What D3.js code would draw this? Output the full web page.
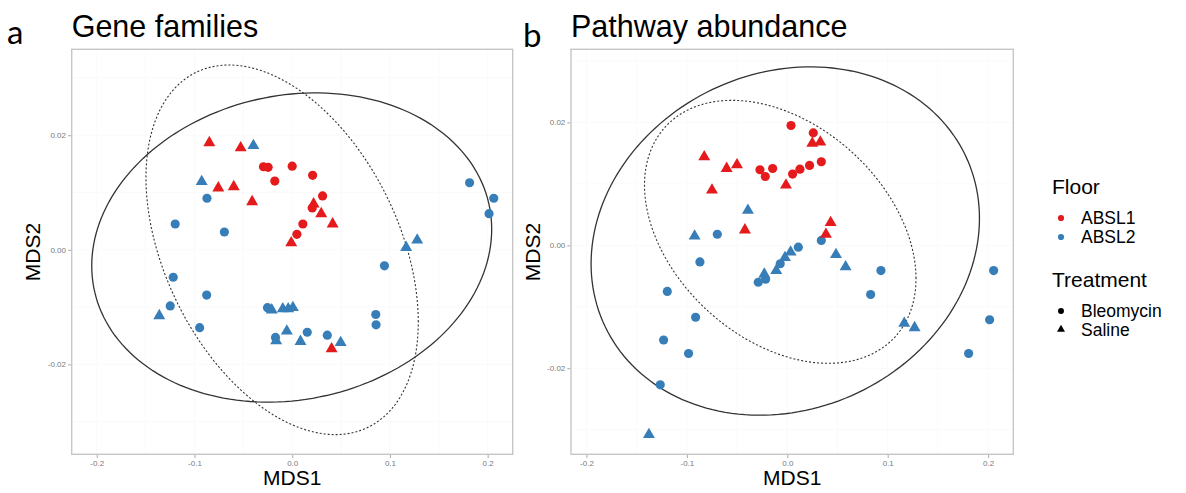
<!DOCTYPE html>
<html>
<head>
<meta charset="utf-8">
<script src="https://cdn.jsdelivr.net/npm/d3@7"></script>
<style>
    body { margin: 0; background: #ffffff; }
    text { font-family: "Liberation Sans", Arial, sans-serif; }
</style>
</head>
<body>
<script>
// NMDS ordination, two panels side by side, ggplot style.
// Values are [MDS1, MDS2].

// colours for the Floor legend
var floorNames = ["ABSL1", "ABSL2"];
var floorColors = ["#e41a1c", "#377eb8"];
var treatNames = ["Bleomycin", "Saline"];

var xTicks = [-0.2, -0.1, 0.0, 0.1, 0.2];
var xTickLabels = ["-0.2", "-0.1", "0.0", "0.1", "0.2"];
var yTicks = [-0.02, 0.00, 0.02];
var yTickLabels = ["-0.02", "0.00", "0.02"];

// ---- panel a : Gene families ----
var geneAbsl1Bleo = [[-0.0294, 0.0145], [-0.0246, 0.0144], [0.0000, 0.0146],
    [0.0209, 0.0130], [-0.0178, 0.0120], [0.0311, 0.0094], [0.0205, 0.0073],
    [0.0109, 0.0045], [0.0048, 0.0027]];
var geneAbsl1Saline = [[-0.0848, 0.0187], [-0.0527, 0.0178],
    [-0.0756, 0.0108], [-0.0598, 0.0110], [-0.0410, 0.0084], [0.0219, 0.0080],
    [0.0297, 0.0063], [0.0414, 0.0045], [-0.0010, 0.0012], [0.0403, -0.0173]];
var geneAbsl2Bleo = [[-0.0872, 0.0090], [-0.1197, 0.0045], [-0.0694, 0.0031],
    [-0.1217, -0.0048], [-0.0875, -0.0079], [-0.1248, -0.0098],
    [-0.0947, -0.0136], [-0.0253, -0.0101], [-0.0171, -0.0153],
    [0.0154, -0.0144], [0.0359, -0.0149], [0.0855, -0.0113],
    [0.0858, -0.0131], [0.0944, -0.0028], [0.1815, 0.0117], [0.2062, 0.0090],
    [0.2014, 0.0063]];
var geneAbsl2Saline = [[-0.0397, 0.0182], [-0.0926, 0.0119], [0.1166, 0.0004],
    [0.1279, 0.0017], [-0.1360, -0.0115], [-0.0209, -0.0105],
    [-0.0096, -0.0103], [-0.0041, -0.0103], [0.0007, -0.0101],
    [-0.0055, -0.0142], [-0.0164, -0.0159], [0.0085, -0.0160],
    [0.0496, -0.0162]];
// ellipse: centre x, centre y, semi-diameter (ax, ay), vertical conjugate bh
var geneEllipseSolid = [-0.0005, 0.0004, 0.2046, 0.0032, 0.0268];
var geneEllipseDashed = [-0.0103, 0.0000, 0.1393, -0.0126, 0.0297];

// ---- panel b : Pathway abundance ----
var pathAbsl1Bleo = [[0.0037, 0.0195], [0.0259, 0.0183], [-0.0272, 0.0123],
    [-0.0219, 0.0112], [-0.0146, 0.0125], [0.0053, 0.0116], [0.0126, 0.0124],
    [0.0222, 0.0130], [0.0339, 0.0136]];
var pathAbsl1Saline = [[0.0249, 0.0166], [0.0329, 0.0168], [-0.0827, 0.0144],
    [-0.0604, 0.0125], [-0.0501, 0.0131], [-0.0750, 0.0090],
    [-0.0013, 0.0098], [-0.0422, 0.0025], [0.0432, 0.0037], [0.0385, 0.0018]];
var pathAbsl2Bleo = [[-0.0697, 0.0018], [-0.0870, -0.0027], [0.0110, -0.0003],
    [-0.0070, -0.0030], [-0.0216, -0.0055], [-0.0289, -0.0060],
    [0.0339, 0.0008], [0.0933, -0.0041], [0.0830, -0.0080],
    [-0.1195, -0.0075], [-0.0913, -0.0117], [-0.1232, -0.0154],
    [-0.0983, -0.0176], [-0.1265, -0.0227], [0.1806, -0.0176],
    [0.2015, -0.0121], [0.2055, -0.0041]];
var pathAbsl2Saline = [[-0.0392, 0.0057], [-0.0923, 0.0015], [0.0485, -0.0015],
    [0.0581, -0.0035], [0.0033, -0.0011], [-0.0023, -0.0020],
    [-0.0110, -0.0041], [-0.0229, -0.0047], [0.1165, -0.0127],
    [0.1268, -0.0134], [-0.1378, -0.0308]];
var pathEllipseSolid = [-0.0020, 0.0007, 0.1934, 0.0037, 0.0281];
var pathEllipseDashed = [-0.0070, 0.0022, 0.1352, -0.0076, 0.0200];

var svg = d3.select("body").append("svg")
    .attr("width", 1186)
    .attr("height", 493);

var symCircle = d3.symbol().type(d3.symbolCircle).size(66);
var symTriangle = d3.symbol().type(d3.symbolTriangle).size(62);

function drawPanel(p) {
    var x = d3.scaleLinear().domain(p.xDomain).range([p.left, p.right]);
    var y = d3.scaleLinear().domain(p.yDomain).range([p.bottom, p.top]);
    var g = svg.append("g");

    // faint major + minor grid
    var gx = d3.range(-0.2, 0.2001, 0.05);
    var gy = d3.range(-0.03, 0.0301, 0.01);
    g.selectAll(".gx").data(gx).enter().append("line")
        .attr("x1", function(d) { return x(d); })
        .attr("x2", function(d) { return x(d); })
        .attr("y1", p.top).attr("y2", p.bottom)
        .attr("stroke", "#fafafa").attr("stroke-width", 1);
    g.selectAll(".gy").data(gy).enter().append("line")
        .attr("y1", function(d) { return y(d); })
        .attr("y2", function(d) { return y(d); })
        .attr("x1", p.left).attr("x2", p.right)
        .attr("stroke", "#fafafa").attr("stroke-width", 1);

    // ellipses
    var ts = d3.range(0, 2 * Math.PI, Math.PI / 90);
    var ell = function(e) {
        return d3.line()
            .x(function(t) { return x(e[0] + e[2] * Math.cos(t)); })
            .y(function(t) {
                return y(e[1] + e[3] * Math.cos(t) + e[4] * Math.sin(t));
            })
            .curve(d3.curveLinearClosed)(ts);
    };
    g.append("path").attr("d", ell(p.solid))
        .attr("fill", "none").attr("stroke", "#333333")
        .attr("stroke-width", 1.3);
    g.append("path").attr("d", ell(p.dashed))
        .attr("fill", "none").attr("stroke", "#333333")
        .attr("stroke-width", 1.1).attr("stroke-dasharray", "2,2");

    // points
    p.series.forEach(function(s) {
        g.selectAll(null).data(s.pts).enter().append("path")
            .attr("d", s.tri ? symTriangle : symCircle)
            .attr("transform", function(d) {
                return "translate(" + x(d[0]) + "," + y(d[1]) + ")";
            })
            .attr("fill", s.color);
    });

    // border
    g.append("rect")
        .attr("x", p.left).attr("y", p.top)
        .attr("width", p.right - p.left).attr("height", p.bottom - p.top)
        .attr("fill", "none").attr("stroke", "#c6c6c6")
        .attr("stroke-width", 1.4);

    // axes
    var xAxis = d3.axisBottom(x).tickValues(xTicks).tickSize(3)
        .tickPadding(2)
        .tickFormat(function(d, i) { return xTickLabels[i]; });
    var yAxis = d3.axisLeft(y).tickValues(yTicks).tickSize(3)
        .tickPadding(2)
        .tickFormat(function(d, i) { return yTickLabels[i]; });
    var ax = g.append("g")
        .attr("transform", "translate(0," + (p.bottom + 0.7) + ")")
        .call(xAxis);
    var ay = g.append("g")
        .attr("transform", "translate(" + (p.left - 0.7) + ",0)")
        .call(yAxis);
    [ax, ay].forEach(function(a) {
        a.select(".domain").remove();
        a.selectAll("line").attr("stroke", "#aaaaaa");
        a.selectAll("text").attr("fill", "#7a7a7a")
            .style("font-size", "8px")
            .style("font-family", "Liberation Sans, Arial, sans-serif");
    });

    // axis titles
    g.append("text")
        .attr("x", (p.left + p.right) / 2).attr("y", 485)
        .style("text-anchor", "middle").style("font-size", "21px")
        .text("MDS1");
    g.append("text")
        .attr("transform", "translate(" + p.yTitleX + ",252) rotate(-90)")
        .style("text-anchor", "middle").style("font-size", "21px")
        .text("MDS2");

    // panel title and letter
    g.append("text")
        .attr("x", p.left).attr("y", 37)
        .style("font-size", "30.5px")
        .text(p.title);
    g.append("text")
        .attr("x", p.letterX).attr("y", p.letterY)
        .style("font-family", "Lato, 'Open Sans', sans-serif")
        .style("font-size", "33px")
        .text(p.letter);
}

drawPanel({
    left: 71.7, right: 512.7, top: 49.3, bottom: 454.3,
    xDomain: [-0.2256, 0.2256], yDomain: [-0.0357, 0.0350],
    solid: geneEllipseSolid, dashed: geneEllipseDashed,
    series: [
        {pts: geneAbsl2Bleo, color: floorColors[1], tri: false},
        {pts: geneAbsl2Saline, color: floorColors[1], tri: true},
        {pts: geneAbsl1Bleo, color: floorColors[0], tri: false},
        {pts: geneAbsl1Saline, color: floorColors[0], tri: true}
    ],
    yTitleX: 40, title: "Gene families", letter: "a",
    letterX: 7, letterY: 44
});

drawPanel({
    left: 571, right: 1013.3, top: 49.3, bottom: 454.3,
    xDomain: [-0.2154, 0.2251], yDomain: [-0.0340, 0.0319],
    solid: pathEllipseSolid, dashed: pathEllipseDashed,
    series: [
        {pts: pathAbsl2Bleo, color: floorColors[1], tri: false},
        {pts: pathAbsl2Saline, color: floorColors[1], tri: true},
        {pts: pathAbsl1Bleo, color: floorColors[0], tri: false},
        {pts: pathAbsl1Saline, color: floorColors[0], tri: true}
    ],
    yTitleX: 540, title: "Pathway abundance", letter: "b",
    letterX: 523, letterY: 46.5
});

// legend
var leg = svg.append("g");
leg.append("text").attr("x", 1052).attr("y", 194)
    .style("font-size", "21px").text("Floor");
floorNames.forEach(function(n, i) {
    leg.append("path").attr("d", d3.symbol().type(d3.symbolCircle).size(30))
        .attr("transform", "translate(1061," + (218 + i * 19) + ")")
        .attr("fill", floorColors[i]);
    leg.append("text").attr("x", 1081).attr("y", 224 + i * 19)
        .style("font-size", "17.5px").text(n);
});
leg.append("text").attr("x", 1052).attr("y", 287)
    .style("font-size", "21px").text("Treatment");
treatNames.forEach(function(n, i) {
    leg.append("path")
        .attr("d", d3.symbol()
            .type(i === 0 ? d3.symbolCircle : d3.symbolTriangle).size(28))
        .attr("transform", "translate(1061," + (311 + i * 18.5) + ")")
        .attr("fill", "#000000");
    leg.append("text").attr("x", 1081).attr("y", 316.5 + i * 19)
        .style("font-size", "17.5px").text(n);
});
</script>
</body>
</html>
